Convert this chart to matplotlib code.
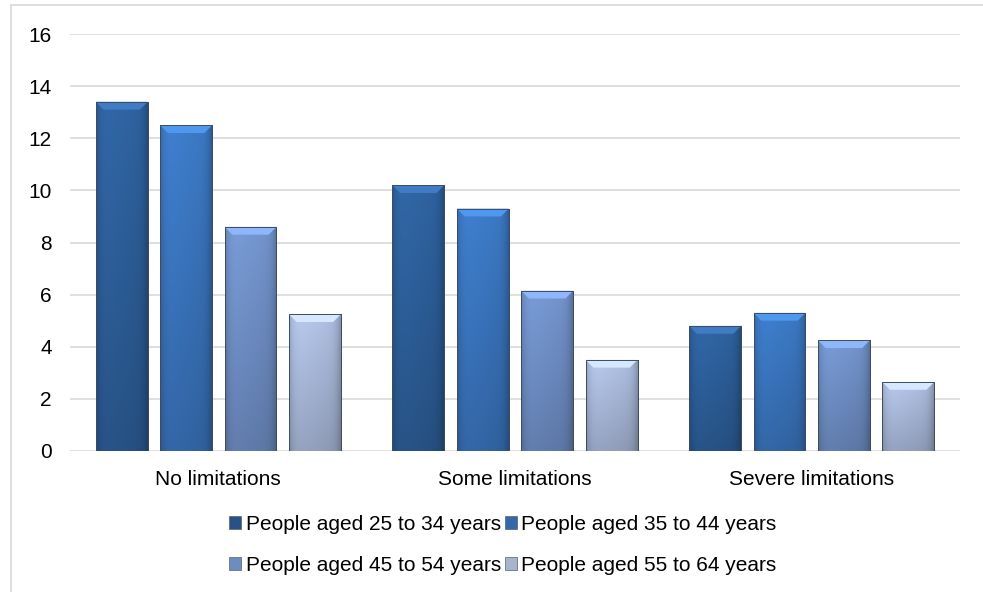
import matplotlib
matplotlib.use("Agg")
import matplotlib.pyplot as plt
import numpy as np
from matplotlib.patches import Patch, Polygon
from matplotlib.lines import Line2D

plt.rcParams['font.family'] = ['Liberation Sans', 'DejaVu Sans']

categories = ["No limitations", "Some limitations", "Severe limitations"]
series = ["People aged 25 to 34 years", "People aged 35 to 44 years",
          "People aged 45 to 54 years", "People aged 55 to 64 years"]
age_25_34 = [13.4, 10.2, 4.8]
age_35_44 = [12.5, 9.3, 5.3]
age_45_54 = [8.6, 6.15, 4.25]
age_55_64 = [5.25, 3.5, 2.65]
values = [age_25_34, age_35_44, age_45_54, age_55_64]
colors = ["#2D5F9A", "#3A75BE", "#6F8FC6", "#A9B9DA"]
legend_colors = ["#2A5186", "#3468A8", "#6E8CC0", "#A8B4CC"]

fig = plt.figure(figsize=(9.83, 5.92), dpi=100)
ax = fig.add_axes([70 / 983, 1 - 451 / 592, 890 / 983, 417 / 592])

x = np.arange(len(categories))
width = 0.175
step = 0.217
bevel_y = 0.3
bevel_x = 0.026


def shade(hex_color, ny=60, nx=30):
    base = np.array(matplotlib.colors.to_rgb(hex_color))
    t = np.linspace(0, 1, ny)[:, None]          # 0 top -> 1 bottom
    s = np.linspace(-1, 1, nx)[None, :]
    vert = 1.06 - 0.2 * t
    horiz = 1.0 - 0.18 * np.abs(s) ** 6 - 0.05 * s
    f = (vert * horiz)[..., None]
    return np.clip(base[None, None, :] * f, 0, 1)


for i, (vals, col) in enumerate(zip(values, colors)):
    pos = x + (i - 1.5) * step
    bars = ax.bar(pos, vals, width, color=col, edgecolor="#4A5A70",
                  linewidth=0.6, zorder=2)
    for rect in bars:
        x0, w, h = rect.get_x(), rect.get_width(), rect.get_height()
        img = ax.imshow(shade(col), extent=(x0, x0 + w, 0, h), aspect="auto",
                        zorder=2.1, interpolation="bilinear")
        img.set_clip_path(rect)
        light = np.clip(np.array(matplotlib.colors.to_rgb(col)) * 1.2 + 0.04, 0, 1)
        top = Polygon([(x0, h), (x0 + w, h), (x0 + w - bevel_x, h - bevel_y),
                       (x0 + bevel_x, h - bevel_y)], closed=True,
                      facecolor=light, edgecolor="none", zorder=2.2)
        ax.add_patch(top)
        ax.add_patch(Polygon([(x0, h), (x0 + w, h), (x0 + w, 0), (x0, 0)],
                             closed=True, fill=False, edgecolor="#3E4C60",
                             linewidth=0.7, zorder=2.3))

ax.set_xlim(-0.5, 2.5)
ax.set_ylim(0, 16)
ax.set_yticks(range(0, 17, 2))
ax.set_xticks(x)
ax.set_xticklabels(categories)
ax.tick_params(axis="both", length=0, labelsize=15, colors="#000000")
ax.tick_params(axis="y", pad=13)
ax.tick_params(axis="x", pad=14)
ax.grid(axis="y", color="#D9D9D9", linewidth=1.2, zorder=0)
ax.set_axisbelow(True)
for side in ["top", "right", "left", "bottom"]:
    ax.spines[side].set_visible(False)

# legend fills column-wise, so order handles to read row by row
order = [0, 2, 1, 3]
handles = [Patch(facecolor=legend_colors[k], edgecolor="#55606F", linewidth=0.5) for k in order]
labels = [series[k] for k in order]
fig.legend(handles, labels, loc="upper center", bbox_to_anchor=(503 / 983, 1 - 515 / 592),
           ncol=2, frameon=False, fontsize=15, handlelength=0.58, handleheight=0.58,
           handletextpad=0.2, columnspacing=0.2, labelspacing=1.05, borderpad=0,
           borderaxespad=0)

# outer chart border (top and left edges)
fig.add_artist(Line2D([11 / 983, 1], [1 - 4.5 / 592, 1 - 4.5 / 592],
                      transform=fig.transFigure, color="#D9D9D9", linewidth=1.2))
fig.add_artist(Line2D([11 / 983, 11 / 983], [0, 1 - 4.5 / 592],
                      transform=fig.transFigure, color="#D9D9D9", linewidth=1.2))

fig.savefig("out.png", dpi=100)
